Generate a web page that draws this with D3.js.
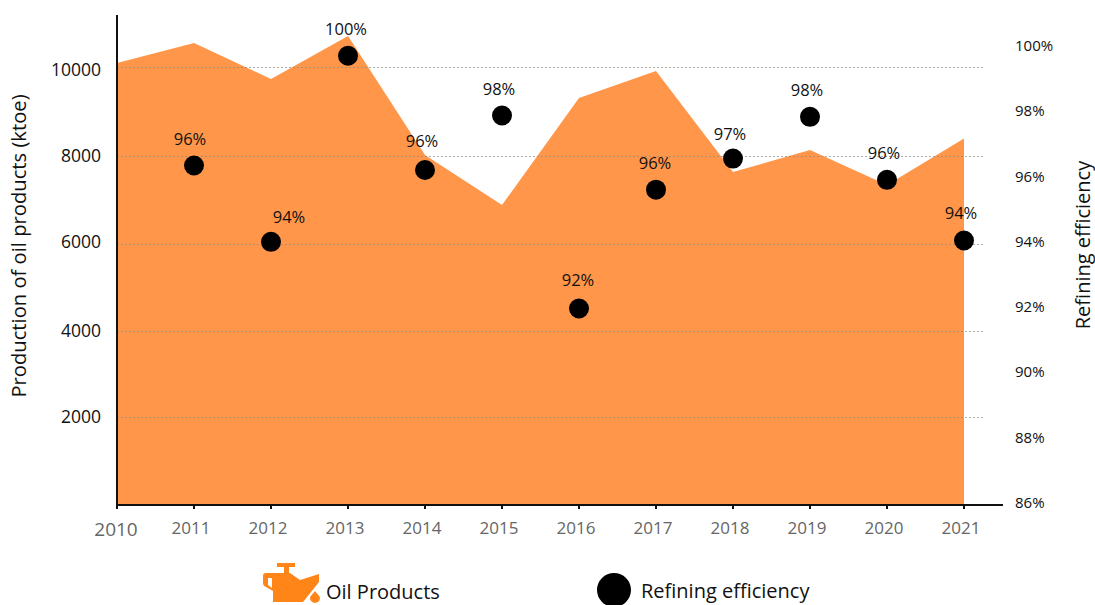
<!DOCTYPE html>
<html><head><meta charset="utf-8">
<script src="https://cdnjs.cloudflare.com/ajax/libs/d3/7.8.5/d3.min.js"></script>
<style>html,body{margin:0;padding:0;background:#fff}svg{display:block}text{font-family:"Open Sans",sans-serif;font-weight:400}</style>
</head><body><svg id="c" width="1095" height="605"></svg>
<script>
const areaYears=[2010,2011,2012,2013,2014,2015,2016,2017,2018,2019,2020,2021];
const production=[10100,10554,9740,10712,8023,6893,9311,9921,7638,8136,7345,8395];
const pointYears=[2011,2012,2013,2014,2015,2016,2017,2018,2019,2020,2021];
const efficiency=[96.34,94.0,99.7,96.2,97.87,91.96,95.6,96.55,97.83,95.9,94.04];
const efficiencyLabels=["96%","94%","100%","96%","98%","92%","96%","97%","98%","96%","94%"];
const leftTicks=[2000,4000,6000,8000,10000];
const rightTicks=[86,88,90,92,94,96,98,100];
const labelOffsets=[[-4,-26],[18,-25],[-2,-27],[-3,-29],[-3,-27],[-1,-28],[-1,-27],[-3,-25],[-3,-27],[-3,-27],[-3,-28]];
const leftLabelNudge=[-1,-1,-3.5,-1,1.5];

const svg=d3.select("#c");
const x=d3.scaleLinear().domain([2010,2021]).range([117,964]);
const y=d3.scaleLinear().domain([0,2000,4000,6000,8000,10000]).range([504,417,331,244.5,156,67.5]);
const yR=d3.scaleLinear().domain([86,100]).range([503,46]);
const fill="#ff9649";

svg.append("path").datum(areaYears.map((d,i)=>[d,production[i]]))
 .attr("d",d3.area().x(d=>x(d[0])).y0(y(0)).y1(d=>y(d[1]))).attr("fill",fill);

// grid
svg.append("g").selectAll("line").data(leftTicks).join("line")
 .attr("x1",x(2010)).attr("x2",984).attr("y1",d=>Math.floor(y(d))+.5).attr("y2",d=>Math.floor(y(d))+.5)
 .attr("stroke","#8a8a80").attr("stroke-opacity",.7).attr("stroke-width",1).attr("stroke-dasharray","2 2");

// axes
const ax=svg.append("g");
ax.append("line").attr("x1",117).attr("x2",117).attr("y1",15).attr("y2",506).attr("stroke","#111").attr("stroke-width",2);
ax.append("line").attr("x1",116).attr("x2",1003).attr("y1",505).attr("y2",505).attr("stroke","#111").attr("stroke-width",2);
ax.selectAll(".t").data(areaYears).join("line").attr("class","t")
 .attr("x1",d=>x(d)).attr("x2",d=>x(d)).attr("y1",505).attr("y2",509).attr("stroke","#111").attr("stroke-width",2);

svg.append("g").selectAll("text").data(areaYears).join("text")
 .attr("x",d=>x(d)-(d===2010?1:3)).attr("y",d=>d===2010?536:534).attr("text-anchor","middle")
 .attr("font-size",d=>d===2010?19:17).attr("fill","#666").text(d=>d);

svg.append("g").selectAll("text").data(leftTicks).join("text")
 .attr("x",101).attr("y",(d,i)=>y(d)+leftLabelNudge[i]+6.5).attr("text-anchor","end").attr("font-size",17.5).attr("fill","#111").text(d=>d);

svg.append("g").selectAll("text").data(rightTicks).join("text")
 .attr("x",1015).attr("y",d=>yR(d)+5).attr("font-size",15).attr("fill","#111").text(d=>d+"%");

svg.append("text").attr("transform","translate(26,246) rotate(-90)").attr("text-anchor","middle")
 .attr("font-size",20.2).attr("fill","#111").text("Production of oil products (ktoe)");
svg.append("text").attr("transform","translate(1090,245) rotate(-90)").attr("text-anchor","middle")
 .attr("font-size",20).attr("fill","#111").text("Refining efficiency");

// points
svg.append("g").selectAll("circle").data(pointYears).join("circle")
 .attr("cx",d=>x(d)).attr("cy",(d,i)=>yR(efficiency[i])).attr("r",10).attr("fill","#000");
svg.append("g").selectAll("text").data(pointYears).join("text")
 .attr("x",(d,i)=>x(d)+labelOffsets[i][0]).attr("y",(d,i)=>yR(efficiency[i])+labelOffsets[i][1]+6)
 .attr("text-anchor","middle").attr("font-size",16.5).attr("fill","#111").text((d,i)=>efficiencyLabels[i]);

// legend
const ic=svg.append("g").attr("fill","#ff8519");
ic.append("path").attr("fill-rule","evenodd").attr("d","M277 563H295V567H289V573H290L300 580L319 574V582L303 602H273V591L266 587C264 586 263 585 263 583V576C263 574 264 573 266 573H284V567H277ZM268 578V585L272 588V578Z");
ic.append("path").attr("d","M315 591C317 594 320 596 320 598A4.8 4.8 0 0 1 310 598C310 596 313 594 315 591Z");
svg.append("text").attr("x",326).attr("y",599).attr("font-size",20).attr("fill","#111").text("Oil Products");
svg.append("circle").attr("cx",614).attr("cy",590).attr("r",17).attr("fill","#000");
svg.append("text").attr("x",641).attr("y",598).attr("font-size",20).attr("fill","#111").text("Refining efficiency");
</script></body></html>
